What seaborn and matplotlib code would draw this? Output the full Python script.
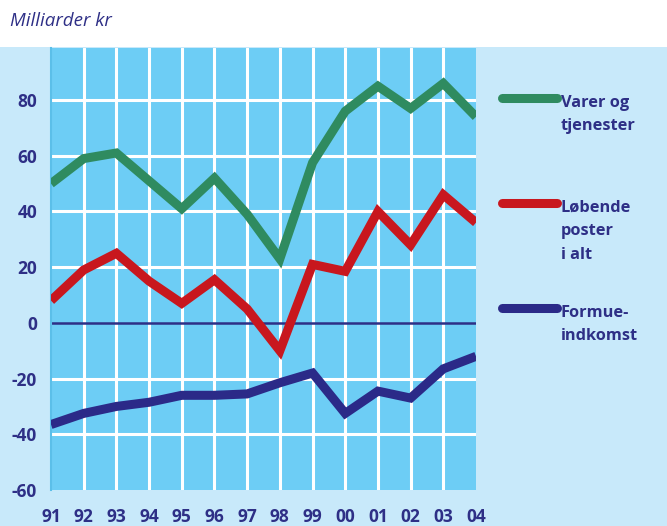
import matplotlib
matplotlib.use("Agg")
import matplotlib.pyplot as plt
from matplotlib.lines import Line2D
from matplotlib.patches import Rectangle
import pandas as pd
import seaborn as sns

years = list(range(1991, 2005))
year_labels = ["91", "92", "93", "94", "95", "96", "97", "98", "99", "00", "01", "02", "03", "04"]

varer_og_tjenester = [50, 59, 61, 51, 41, 52, 39, 23, 57.5, 76, 85, 77, 86, 74]
lobende_poster = [8, 19, 25, 15, 7, 15.5, 5, -10, 21, 18.5, 40, 28, 46, 36]
formueindkomst = [-36.5, -32.5, -30, -28.5, -26, -26, -25.5, -21.5, -18, -32.5, -24.5, -27, -16.5, -12]

series_names = ["Varer og\ntjenester", "Løbende\nposter\ni alt", "Formue-\nindkomst"]
y_ticks = [-60, -40, -20, 0, 20, 40, 60, 80]

NAVY = "#2e2f86"
GREEN = "#2f8b60"
RED = "#c8171e"
LINE_NAVY = "#2b2a88"
PLOT_BG = "#6dcdf5"
OUTER_BG = "#c8e9fa"

df = pd.DataFrame({
    "year": years * 3,
    "value": varer_og_tjenester + lobende_poster + formueindkomst,
    "series": [series_names[0]] * 14 + [series_names[1]] * 14 + [series_names[2]] * 14,
})

sns.set_theme(style="white")
plt.rcParams["font.family"] = ["Open Sans", "DejaVu Sans"]

fig = plt.figure(figsize=(6.67, 5.26), dpi=100)
fig.patch.set_facecolor("white")
# light blue panel below the title strip
fig.add_artist(Rectangle((0, 0), 1, (526 - 47) / 526, transform=fig.transFigure,
                         facecolor=OUTER_BG, edgecolor="none", zorder=-10))

ax = fig.add_axes([51 / 667, 36 / 526, 425 / 667, 442 / 526])
ax.set_facecolor(PLOT_BG)

palette = {series_names[0]: GREEN, series_names[1]: RED, series_names[2]: LINE_NAVY}
sns.lineplot(data=df, x="year", y="value", hue="series", palette=palette,
             linewidth=6.5, ax=ax, legend=False, zorder=5)
for line in ax.get_lines():
    line.set_solid_joinstyle("miter")
    line.set_solid_capstyle("butt")

ax.set_xlim(1991, 2004)
ax.set_ylim(-60, 98.7)

# white grid
for y in y_ticks[1:]:
    if y != 0:
        ax.axhline(y, color="white", linewidth=2.2, zorder=1)
for x in years[1:-1]:
    ax.axvline(x, color="white", linewidth=2.2, zorder=1)
ax.axhline(0, color=NAVY, linewidth=1.8, zorder=2)

ax.set_xticks(years)
ax.set_xticklabels(year_labels)
ax.set_yticks(y_ticks)
ax.set_yticklabels([str(v) for v in y_ticks])
ax.tick_params(axis="both", length=0, labelcolor=NAVY, labelsize=12.5)
ax.tick_params(axis="x", pad=13)
ax.tick_params(axis="y", pad=10)
for lab in ax.get_xticklabels() + ax.get_yticklabels():
    lab.set_fontweight("bold")
ax.set_xlabel("")
ax.set_ylabel("")
for side, sp in ax.spines.items():
    sp.set_visible(side == "left")
ax.spines["left"].set_color("#5bbfe9")
ax.spines["left"].set_linewidth(1.5)

fig.text(10 / 667, 1 - 21 / 526, "Milliarder kr", color=NAVY, fontsize=13.5,
         style="italic", va="center", ha="left")

# legend entries: line swatch with label to its right
legend_rows = [(98, GREEN), (203, RED), (308, LINE_NAVY)]
for (ypix, col), name in zip(legend_rows, series_names):
    yf = 1 - ypix / 526
    fig.add_artist(Line2D([502 / 667, 557 / 667], [yf, yf], color=col, linewidth=6.5,
                          solid_capstyle="round", transform=fig.transFigure))
    fig.text(561 / 667, 1 - (ypix - 3) / 526, name, color=NAVY, fontsize=11.8,
             fontweight="bold", va="top", ha="left", linespacing=1.62)

fig.savefig("out.png", dpi=100)
